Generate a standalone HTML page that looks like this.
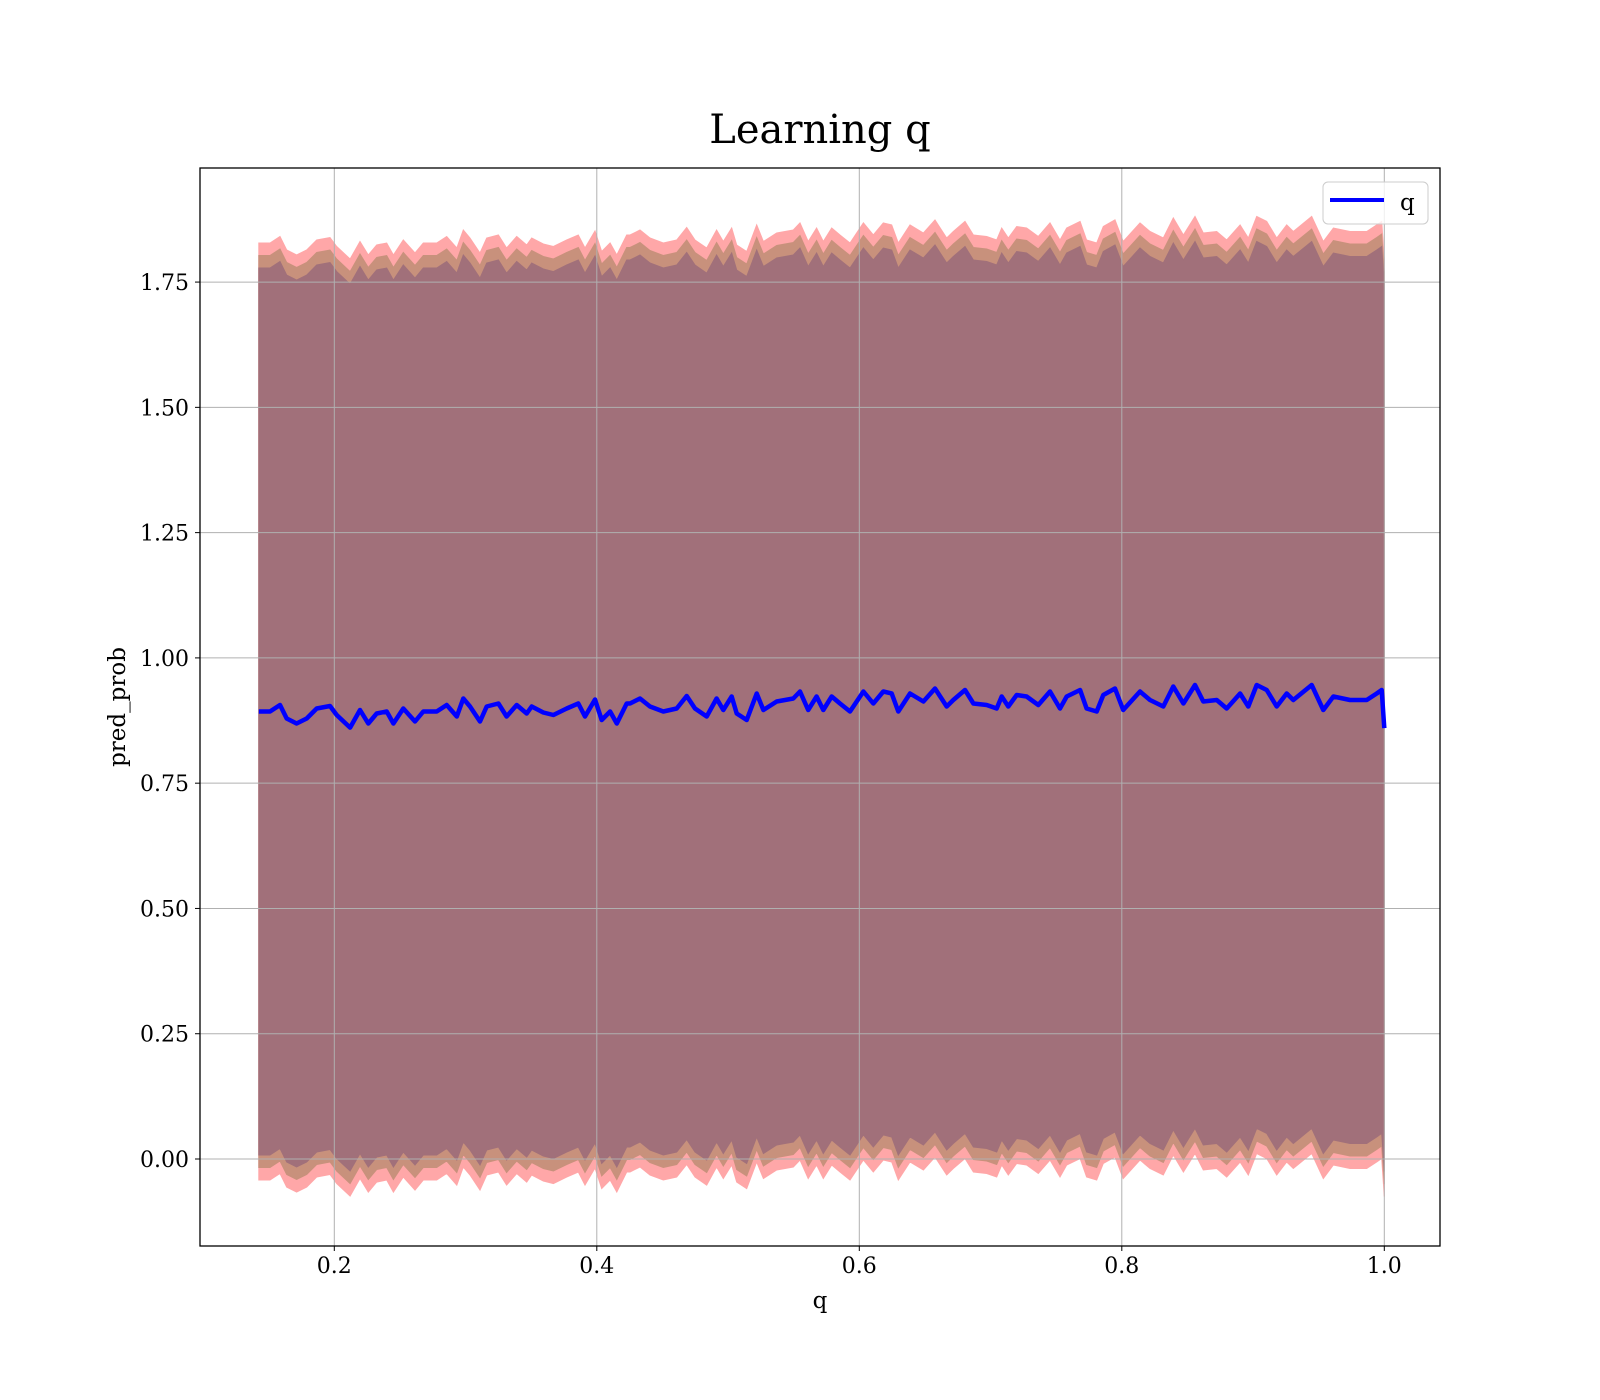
<!DOCTYPE html>
<html><head><meta charset="utf-8"><style>
html,body{margin:0;padding:0;background:#fff;}
svg{display:block;font-family:"DejaVu Serif","Liberation Serif",serif;}
</style></head><body>
<svg id="chart" width="1600" height="1400" viewBox="0 0 1600 1400" xmlns="http://www.w3.org/2000/svg">
<rect width="1600" height="1400" fill="#fff"/>
<text x="820" y="143" font-size="40" text-anchor="middle" fill="#000">Learning q</text>
<g id="bands"></g>
<g id="grid"></g>
<g id="series"></g>
<rect x="200" y="168" width="1240" height="1078" fill="none" stroke="#000" stroke-width="1.3"/>
<g id="ticks"></g>
<text x="820" y="1308" font-size="23" text-anchor="middle">q</text>
<text transform="translate(125,707) rotate(-90)" font-size="23" text-anchor="middle">pred_prob</text>
<g>
<rect x="1323" y="182" width="105" height="42" rx="5" fill="#fff" fill-opacity="0.8" stroke="#ccc"/>
<line x1="1330" y1="200" x2="1384" y2="200" stroke="#0000ff" stroke-width="4"/>
<text x="1400" y="210" font-size="23">q</text>
</g>
</svg>
<script>
const qValues = [0.1425,0.151,0.1586,0.1637,0.1713,0.179,0.1866,0.1967,0.2018,0.212,0.2196,0.2259,0.2323,0.2399,0.245,0.2526,0.2615,0.2678,0.278,0.2856,0.2933,0.2983,0.3034,0.311,0.3161,0.325,0.3313,0.339,0.3466,0.3504,0.3592,0.3669,0.3771,0.3859,0.391,0.3986,0.4037,0.4101,0.4152,0.4228,
0.4253,0.4329,0.4405,0.4507,0.4609,0.4685,0.4748,0.4837,0.4913,0.4964,0.5028,0.5066,0.5142,0.5218,0.5269,0.5371,0.5497,0.5548,0.5611,0.5675,0.5726,0.579,0.5853,0.5929,0.6031,0.6107,0.6183,0.6247,0.6297,0.6386,0.6488,0.6577,0.6666,0.6716,0.6805,0.6869,0.6971,0.7047,
0.7085,0.7135,0.7199,0.7275,0.7364,0.7453,0.7529,0.758,0.7682,0.7732,0.7809,0.7859,0.7948,0.8011,0.8139,0.8215,0.8316,0.8392,0.8469,0.8558,0.8621,0.8723,0.8799,0.8901,0.8964,0.9028,0.9104,0.918,0.9256,0.9307,0.9447,0.9535,0.9612,0.9739,0.9866,0.9942,0.998,1.0];
const predMean = [0.893,0.893,0.906,0.879,0.869,0.879,0.899,0.904,0.886,0.861,0.896,0.869,0.889,0.893,0.869,0.899,0.873,0.893,0.893,0.906,0.883,0.919,0.903,0.873,0.903,0.909,0.883,0.906,0.889,0.903,0.891,0.886,0.899,0.909,0.883,0.917,0.876,0.893,0.869,0.909,
0.909,0.919,0.903,0.893,0.899,0.924,0.899,0.883,0.919,0.896,0.923,0.889,0.876,0.929,0.896,0.913,0.919,0.933,0.896,0.923,0.896,0.923,0.909,0.893,0.933,0.909,0.933,0.929,0.893,0.929,0.913,0.939,0.903,0.916,0.936,0.909,0.906,0.899,
0.923,0.903,0.926,0.923,0.906,0.933,0.899,0.923,0.936,0.899,0.893,0.926,0.939,0.896,0.933,0.916,0.903,0.943,0.909,0.946,0.913,0.916,0.899,0.929,0.903,0.946,0.936,0.903,0.929,0.916,0.946,0.896,0.923,0.916,0.916,0.929,0.936,0.86];
const bandHalfWidths = [0.935, 0.91, 0.885];
const bandColors = ["#ffa7a8", "#c8917c", "#a1707a"];
const bandNames = ["band-outer", "band-middle", "band-inner"];
const xTicks = [0.2, 0.4, 0.6, 0.8, 1.0];
const xTickLabels = ["0.2","0.4","0.6","0.8","1.0"];
const yTicks = [0, 0.25, 0.5, 0.75, 1.0, 1.25, 1.5, 1.75];
const yTickLabels = ["0.00","0.25","0.50","0.75","1.00","1.25","1.50","1.75"];

const NS = "http://www.w3.org/2000/svg";
function xs(v){ return 334.3 + (v - 0.2) * 1312.5; }
function ys(v){ return 1159 - v * 501.1; }
function mk(tag, attrs, parent){
  const el = document.createElementNS(NS, tag);
  for (const k in attrs) el.setAttribute(k, attrs[k]);
  parent.appendChild(el);
  return el;
}
const bandsG = document.getElementById('bands');
bandHalfWidths.forEach((hw, i) => {
  let up = qValues.map((q, j) => xs(q).toFixed(1) + ',' + ys(predMean[j] + hw).toFixed(1));
  let lo = qValues.map((q, j) => xs(q).toFixed(1) + ',' + ys(predMean[j] - hw).toFixed(1)).reverse();
  const p = mk('polygon', {points: up.concat(lo).join(' '), fill: bandColors[i], stroke: bandColors[i], 'stroke-width': 1}, bandsG);
  
  
});
const gridG = document.getElementById('grid');
const tickG = document.getElementById('ticks');
xTicks.forEach((t, i) => {
  const x = xs(t);
  const g = mk('line', {x1: x, y1: 168, x2: x, y2: 1246, stroke: '#b0b0b0', 'stroke-width': 1}, gridG);
  
  
  mk('line', {x1: x, y1: 1246, x2: x, y2: 1251, stroke: '#000', 'stroke-width': 1}, tickG);
  const tx = mk('text', {x: x, y: 1273, 'font-size': 22, 'text-anchor': 'middle'}, tickG);
  tx.textContent = xTickLabels[i];
  
  
});
yTicks.forEach((t, i) => {
  const y = ys(t);
  const g = mk('line', {x1: 200, y1: y, x2: 1440, y2: y, stroke: '#b0b0b0', 'stroke-width': 1}, gridG);
  
  
  mk('line', {x1: 195, y1: y, x2: 200, y2: y, stroke: '#000', 'stroke-width': 1}, tickG);
  const tx = mk('text', {x: 189, y: y + 8, 'font-size': 22, 'text-anchor': 'end'}, tickG);
  tx.textContent = yTickLabels[i];
  
  
});
const seriesG = document.getElementById('series');
const line = mk('polyline', {points: qValues.map((q, j) => xs(q).toFixed(1) + ',' + ys(predMean[j]).toFixed(1)).join(' '), fill: 'none', stroke: '#0000ff', 'stroke-width': 4.5, 'stroke-linejoin': 'round'}, seriesG);


</script>
</body></html>
